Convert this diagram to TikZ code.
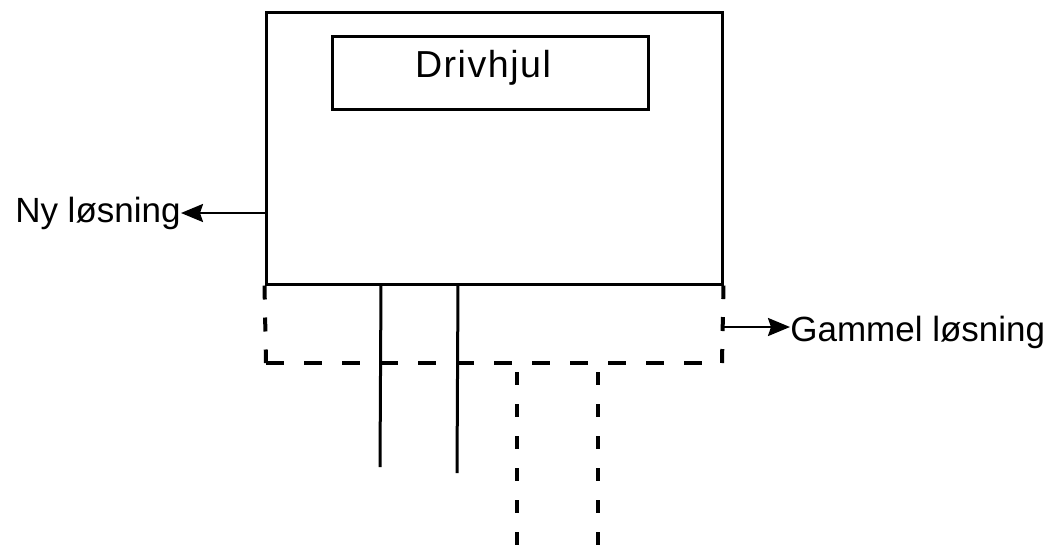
\documentclass[tikz,border=0pt]{standalone}
\usepackage{fontspec}
\setmainfont{Liberation Sans}
\usetikzlibrary{arrows.meta}
\begin{document}
\begin{tikzpicture}[x=0.5pt,y=-0.5pt,
  frame/.style={draw,line width=1.5pt,inner sep=0pt},
  legsolid/.style={line width=1.5pt},
  legdash/.style={line width=2pt,dash pattern=on 6.5pt off 9.5pt},
  basedash/.style={line width=2pt,dash pattern=on 9pt off 10pt},
  sidedash/.style={line width=2pt,dash pattern=on 7pt off 9pt},
  pointer/.style={line width=1.2pt,-{Stealth[length=11pt,width=9pt,inset=1.5pt]}},
  lbl/.style={inner sep=0pt,font=\fontsize{17.5}{20}\selectfont}]
\useasboundingbox (0,0) rectangle (1057,548);

% housing and drive wheel
\node[frame,minimum width=228pt,minimum height=136pt] (housing) at (494,148) {};
\node[frame,minimum width=158pt,minimum height=36.5pt] (wheel) at (490,72.5) {};
\node[inner sep=0pt,anchor=base,font=\fontsize{18.8}{21}\selectfont\addfontfeature{LetterSpace=4}] (wheeltxt) at (483,77) {Drivhjul};

% old (dashed) extension below the housing
\coordinate (oldbl) at (266,363);
\coordinate (oldbr) at (722,363);
\draw[sidedash] (housing.south west) -- (oldbl);
\draw[basedash] (oldbl) -- (oldbr);
\draw[sidedash] (oldbr) -- (housing.south east);

% new solution legs
\coordinate (na) at (381,284); \coordinate (nae) at (380,467);
\coordinate (nb) at (458,284); \coordinate (nbe) at (457,473);
\draw[legsolid] (na) -- (nae);
\draw[legsolid] (nb) -- (nbe);

% old solution legs
\coordinate (oa) at (517,372); \coordinate (oae) at (517,548);
\coordinate (ob) at (598,372); \coordinate (obe) at (598,548);
\draw[legdash] (oa) -- (oae);
\draw[legdash] (ob) -- (obe);

% labels
\coordinate (nyfrom) at (266,213);
\node[lbl,anchor=base east] (ny) at (181,222) {Ny løsning};
\draw[pointer] (nyfrom) -- (ny.east |- nyfrom);

\coordinate (oldfrom) at (722,327);
\node[lbl,anchor=base west] (gammel) at (790,341) {Gammel løsning};
\draw[pointer] (oldfrom) -- (gammel.west |- oldfrom);
\end{tikzpicture}
\end{document}
